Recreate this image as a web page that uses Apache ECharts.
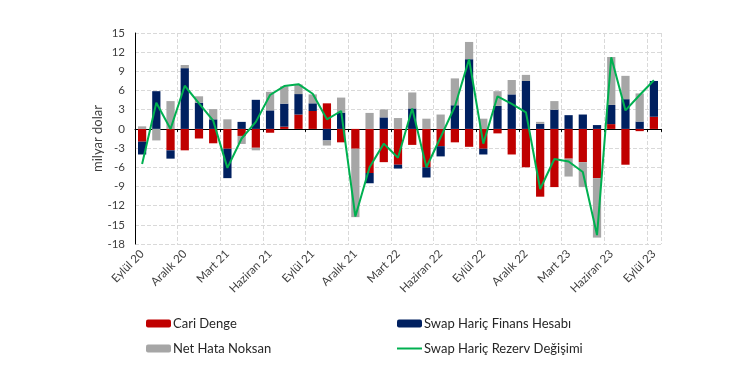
<!DOCTYPE html>
<html>
<head>
<meta charset="utf-8">
<script src="https://cdn.jsdelivr.net/npm/echarts@6/dist/echarts.min.js"></script>
<style>
  html, body { margin: 0; padding: 0; background: #fff; }
  #chart { width: 750px; height: 375px; }
</style>
</head>
<body>
<div id="chart"></div>
<script>
// aylar (Eylül 2020 - Eylül 2023)
var aylar = [
  "Eylül 20", "Ekim 20", "Kasım 20", "Aralık 20", "Ocak 21", "Şubat 21",
  "Mart 21", "Nisan 21", "Mayıs 21", "Haziran 21", "Temmuz 21", "Ağustos 21",
  "Eylül 21", "Ekim 21", "Kasım 21", "Aralık 21", "Ocak 22", "Şubat 22",
  "Mart 22", "Nisan 22", "Mayıs 22", "Haziran 22", "Temmuz 22", "Ağustos 22",
  "Eylül 22", "Ekim 22", "Kasım 22", "Aralık 22", "Ocak 23", "Şubat 23",
  "Mart 23", "Nisan 23", "Mayıs 23", "Haziran 23", "Temmuz 23", "Ağustos 23",
  "Eylül 23"
];

// milyar dolar
var cariDenge = [
  -2.0, 0, -3.35, -3.35, -1.5, -2.25, -3.1, -1.1, -2.95, -0.6, 0.35, 2.25,
  2.8, 4.0, -2.1, -3.1, -6.9, -5.2, -5.6, -2.5, -6.0, -2.7, -2.1, -2.8,
  -3.1, -0.7, -4.0, -6.0, -10.6, -9.1, -4.65, -5.2, -7.7, 0.75, -5.6, -0.35,
  1.9
];
var finansHesabi = [
  -2.0, 5.9, -1.3, 9.5, 4.1, 1.5, -4.6, 1.1, 4.55, 2.9, 3.6, 3.2,
  1.2, -1.8, 2.55, 0, -1.6, 1.8, -0.6, 3.2, -1.6, -1.6, 3.7, 10.9,
  -0.9, 3.6, 5.4, 7.5, 0.8, 3.0, 2.15, 2.25, 0.6, 3.0, 4.65, 1.15,
  5.6
];
var netHataNoksan = [
  0.4, -1.8, 4.35, 0.5, 1.0, 1.6, 1.5, -1.25, -0.4, 2.9, 2.7, 1.5,
  1.4, -0.8, 2.35, -10.7, 2.5, 1.25, 1.7, 2.5, 1.6, 2.25, 4.2, 2.7,
  1.6, 2.3, 2.25, 0.95, 0.3, 1.35, -2.8, -3.9, -9.3, 7.5, 3.65, 4.4,
  0
];
var rezervDegisimi = [
  -5.5, 4.1, 0.0, 6.75, 4.0, 1.3, -6.1, -1.5, 1.1, 5.3, 6.7, 7.0,
  5.5, 1.5, 2.8, -13.7, -6.0, -2.3, -4.5, 3.2, -6.0, -1.3, 3.5, 10.9,
  -2.3, 5.1, 3.9, 2.6, -9.4, -4.7, -5.1, -6.75, -16.6, 11.2, 2.9, 5.3,
  7.6
];

var font = "Lato, 'Noto Sans', sans-serif";
var legendText = { fontFamily: font, fontSize: 13, color: "#262626", padding: [0, 0, 0, -3] };

var chart = echarts.init(document.getElementById("chart"));
var option = {
  backgroundColor: "#fff",
  animation: false,
  textStyle: { fontFamily: font },
  grid: { left: 135, right: 89, top: 33, bottom: 131, containLabel: false },
  legend: [
    {
      left: 141, top: 312, orient: "vertical", itemGap: 12,
      itemWidth: 25, itemHeight: 8,
      textStyle: legendText,
      data: ["Cari Denge", "Net Hata Noksan"]
    },
    {
      left: 392, top: 312, orient: "vertical", itemGap: 12,
      itemWidth: 25, itemHeight: 8,
      textStyle: legendText,
      data: [
        "Swap Hariç Finans Hesabı",
        { name: "Swap Hariç Rezerv Değişimi", icon: "path://M0,0 H25 V2 H0 Z" }
      ]
    }
  ],
  xAxis: [
    {
      type: "category",
      data: aylar,
      position: "bottom",
      axisLine: { show: false, onZero: false },
      axisTick: { show: false },
      axisLabel: {
        interval: 2, rotate: 45, margin: 8,
        fontFamily: font, fontSize: 11.5, color: "#404040"
      },
      splitLine: {
        show: true, interval: 2,
        lineStyle: { color: "#d9d9d9", type: "dashed", width: 1 }
      }
    },
    {
      // çizgi sıfırda
      type: "category",
      data: aylar,
      position: "bottom",
      axisLine: { show: true, onZero: true, lineStyle: { color: "#000", width: 1 } },
      axisTick: { show: true, interval: 2, length: 3, lineStyle: { color: "#000" } },
      axisLabel: { show: false },
      splitLine: { show: false }
    }
  ],
  yAxis: {
    type: "value",
    min: -18, max: 15, interval: 3,
    name: "milyar dolar",
    nameLocation: "middle",
    nameGap: 31,
    nameMoveOverlap: false,
    nameTextStyle: { fontFamily: font, fontSize: 13, color: "#404040" },
    axisLine: { show: true, lineStyle: { color: "#000", width: 1 } },
    axisTick: { show: false },
    axisLabel: { fontFamily: font, fontSize: 11.5, color: "#404040", margin: 10 },
    splitLine: { lineStyle: { color: "#d9d9d9", type: "dashed", width: 1 } }
  },
  series: [
    {
      name: "Cari Denge", type: "bar", stack: "toplam",
      data: cariDenge, barWidth: "58%",
      itemStyle: { color: "#c00000" }
    },
    {
      name: "Swap Hariç Finans Hesabı", type: "bar", stack: "toplam",
      data: finansHesabi, barWidth: "58%",
      itemStyle: { color: "#002060" }
    },
    {
      name: "Net Hata Noksan", type: "bar", stack: "toplam",
      data: netHataNoksan, barWidth: "58%",
      itemStyle: { color: "#a6a6a6" }
    },
    {
      name: "Swap Hariç Rezerv Değişimi", type: "line",
      data: rezervDegisimi, symbol: "none", z: 5,
      lineStyle: { color: "#00b050", width: 2 },
      itemStyle: { color: "#00b050" }
    }
  ]
};
chart.setOption(option);
</script>
</body>
</html>
